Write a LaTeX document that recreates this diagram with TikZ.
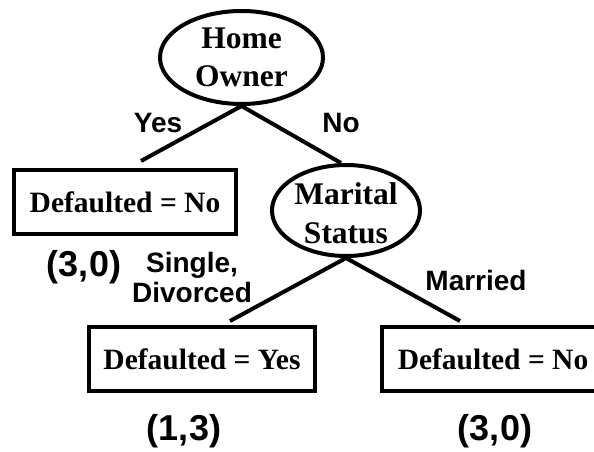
\documentclass[tikz,border=0pt]{standalone}
\usepackage{fontspec}
\setmainfont{Liberation Serif}
\newfontfamily\lsans{Liberation Sans}
\usetikzlibrary{shapes.geometric}
\tikzset{
  edge/.style={line width=4pt},
  attr/.style={ellipse, draw, line width=4pt, inner sep=0pt},
  attrtext/.style={align=center, inner sep=0pt, font=\fontsize{31.5}{38.5}\selectfont\bfseries},
  leaf/.style={rectangle, draw, line width=4pt, inner sep=0pt, minimum height=64pt,
               font=\fontsize{29.5}{34}\selectfont\bfseries},
  lbl/.style={align=center, inner sep=0pt, font=\fontsize{28}{30.5}\selectfont\lsans\bfseries},
  cnt/.style={inner sep=0pt, font=\fontsize{36}{40}\selectfont\lsans\bfseries}
}
\begin{document}
\begin{tikzpicture}[x=1pt,y=1pt]
\useasboundingbox (0,0) rectangle (594,451);
% internal nodes
\node[attr, minimum width=163pt, minimum height=93pt] (ho) at (241.5,393.5) {};
\node[attrtext] (hot) at (241.5,393.8) {Home\\Owner};
\node[attr, minimum width=148pt, minimum height=91pt] (ms) at (346,240.5) {};
\node[attrtext] (mst) at (346,237.5) {Marital\\Status};
% leaves
\node[leaf, minimum width=222pt] (b1) at (125,249) {Defaulted = No};
\node[leaf, minimum width=226pt] (b2) at (202,92) {Defaulted = Yes};
\node[leaf, minimum width=222pt] (b3) at (493,92) {Defaulted = No};
% connectors
\draw[edge] (ho.south) -- ([shift={(16,7)}]b1.north);
\draw[edge] (ho.south) -- ([xshift=-5]ms.north);
\draw[edge] (ms.south) -- ([shift={(28,4)}]b2.north);
\draw[edge] (ms.south) -- ([shift={(-33,4)}]b3.north);
% branch labels
\node[lbl] (lyes) at (158,328) {Yes};
\node[lbl] (lno) at (341,328) {No};
\node[lbl] (lsd) at (192,173.7) {Single,\\Divorced};
\node[lbl] (lmar) at (476,171) {Married};
% counts
\node[cnt] (c1) at (84,183.5) {(3,0)};
\node[cnt] (c2) at (184,20) {(1,3)};
\node[cnt] (c3) at (495,20) {(3,0)};
\end{tikzpicture}
\end{document}
